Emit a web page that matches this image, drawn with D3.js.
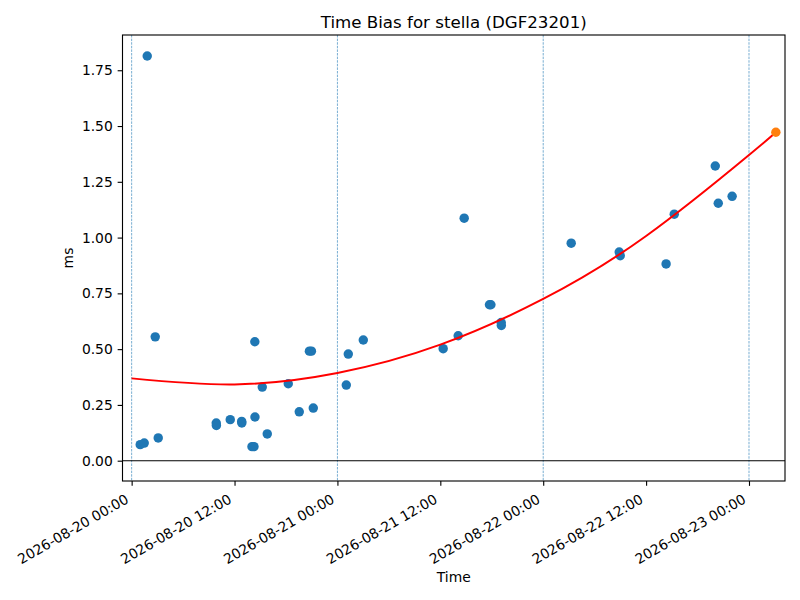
<!DOCTYPE html>
<html>
<head>
<meta charset="utf-8">
<script src="https://cdn.jsdelivr.net/npm/d3@7"></script>
<style>
  body { margin: 0; background: #fff; }
  text { font-family: "DejaVu Sans", sans-serif; fill: #000; }
</style>
</head>
<body>
<div id="chart"></div>
<script>
// Measured time bias samples (ms)
const sampleTimes = [
  "2026-08-20 01:00", "2026-08-20 01:28", "2026-08-20 01:49", "2026-08-20 02:45", "2026-08-20 03:06",
  "2026-08-20 09:52", "2026-08-20 09:53", "2026-08-20 11:30", "2026-08-20 12:50", "2026-08-20 12:51",
  "2026-08-20 14:02", "2026-08-20 14:16", "2026-08-20 14:23", "2026-08-20 14:22", "2026-08-20 15:14",
  "2026-08-20 15:49", "2026-08-20 18:16", "2026-08-20 19:33", "2026-08-20 20:44", "2026-08-20 20:58",
  "2026-08-20 21:11", "2026-08-21 01:02", "2026-08-21 01:16", "2026-08-21 03:01", "2026-08-21 12:20",
  "2026-08-21 14:05", "2026-08-21 14:47", "2026-08-21 17:44", "2026-08-21 17:54", "2026-08-21 19:06",
  "2026-08-21 19:07", "2026-08-22 03:16", "2026-08-22 08:52", "2026-08-22 08:59", "2026-08-22 14:20",
  "2026-08-22 15:17", "2026-08-22 20:04", "2026-08-22 20:25", "2026-08-22 22:02"
];
const sampleValues = [
  0.072, 0.079, 1.814, 0.555, 0.102,
  0.169, 0.158, 0.184, 0.176, 0.169,
  0.063, 0.063, 0.196, 0.533, 0.330,
  0.120, 0.345, 0.219, 0.491, 0.491,
  0.236, 0.339, 0.478, 0.541, 0.502,
  0.560, 1.087, 0.699, 0.699, 0.619,
  0.606, 0.975, 0.935, 0.919, 0.882,
  1.105, 1.321, 1.154, 1.185
];

// Fitted trend
const fitTimes = [
  "2026-08-20 00:00", "2026-08-20 12:00", "2026-08-21 00:00", "2026-08-21 12:00",
  "2026-08-22 00:00", "2026-08-22 12:00", "2026-08-23 00:00", "2026-08-23 03:08"
];
const fitValues = [0.369, 0.342, 0.393, 0.520, 0.725, 1.007, 1.370, 1.472];

// Latest (predicted) point
const latestTime = "2026-08-23 03:08";
const latestValue = 1.472;

// Day boundaries and tick labels
const dayLines = ["2026-08-20 00:00", "2026-08-21 00:00", "2026-08-22 00:00", "2026-08-23 00:00"];
const xTicks = [
  "2026-08-20 00:00", "2026-08-20 12:00", "2026-08-21 00:00", "2026-08-21 12:00",
  "2026-08-22 00:00", "2026-08-22 12:00", "2026-08-23 00:00"
];
const yTicks = [0, 0.25, 0.5, 0.75, 1.0, 1.25, 1.5, 1.75];

const parseTime = d3.timeParse("%Y-%m-%d %H:%M");
const fmtTime = d3.timeFormat("%Y-%m-%d %H:%M");

const W = 800, H = 600;
const margin = { top: 35, right: 15, bottom: 119, left: 122.5 };
const width = W - margin.left - margin.right;
const height = H - margin.top - margin.bottom;

const svg = d3.select("#chart").append("svg")
  .attr("width", W)
  .attr("height", H);

const g = svg.append("g")
  .attr("transform", `translate(${margin.left},${margin.top})`);

// Scales
const x = d3.scaleTime()
  .domain([parseTime("2026-08-19 22:56"), parseTime("2026-08-23 04:12")])
  .range([0, width]);
const y = d3.scaleLinear()
  .domain([-0.091, 1.908])
  .range([height, 0]);

// Clip for marks
g.append("clipPath").attr("id", "clip")
  .append("rect").attr("width", width).attr("height", height);
const plot = g.append("g").attr("clip-path", "url(#clip)");

// Day boundary lines
plot.selectAll(".day")
  .data(dayLines)
  .enter().append("line")
  .attr("x1", d => x(parseTime(d)))
  .attr("x2", d => x(parseTime(d)))
  .attr("y1", 0)
  .attr("y2", height)
  .style("stroke", "#1f77b4")
  .style("stroke-opacity", 0.75)
  .style("stroke-width", 0.8)
  .style("stroke-dasharray", "2.5,1.1");

// Zero line
plot.append("line")
  .attr("x1", 0).attr("x2", width)
  .attr("y1", y(0)).attr("y2", y(0))
  .style("stroke", "#000")
  .style("stroke-width", 1.1);

// Scatter points
const points = sampleTimes.map((t, i) => ({ t: parseTime(t), v: sampleValues[i] }));
plot.selectAll(".pt")
  .data(points)
  .enter().append("circle")
  .attr("class", "pt")
  .attr("cx", d => x(d.t))
  .attr("cy", d => y(d.v))
  .attr("r", 4.72)
  .style("fill", "#1f77b4");

// Fit curve
const fit = fitTimes.map((t, i) => ({ t: parseTime(t), v: fitValues[i] }));
plot.append("path")
  .datum(fit)
  .attr("d", d3.line().x(d => x(d.t)).y(d => y(d.v)).curve(d3.curveNatural))
  .style("fill", "none")
  .style("stroke", "red")
  .style("stroke-width", 2);

// Latest point
plot.append("circle")
  .attr("cx", x(parseTime(latestTime)))
  .attr("cy", y(latestValue))
  .attr("r", 4.72)
  .style("fill", "#ff7f0e");

// X axis
const xAxis = g.append("g")
  .attr("transform", `translate(0,${height})`)
  .call(d3.axisBottom(x)
    .tickValues(xTicks.map(parseTime))
    .tickFormat(fmtTime)
    .tickSizeOuter(0)
    .tickSize(4.86)
    .tickPadding(0));
xAxis.select(".domain").remove();
xAxis.selectAll(".tick line").style("stroke", "#000").style("stroke-width", 1.11);
xAxis.selectAll(".tick text")
  .style("font-size", "13.89px")
  .attr("y", 0)
  .attr("dy", 0)
  .attr("text-anchor", "end")
  .attr("transform", "translate(-2.5,21) rotate(-30)");

// Y axis
const yAxis = g.append("g")
  .call(d3.axisLeft(y)
    .tickValues(yTicks)
    .tickFormat(d3.format(".2f"))
    .tickSizeOuter(0)
    .tickSize(4.86)
    .tickPadding(4.86));
yAxis.select(".domain").remove();
yAxis.selectAll(".tick line").style("stroke", "#000").style("stroke-width", 1.11);
yAxis.selectAll(".tick text").style("font-size", "13.89px");

// Frame
g.append("rect")
  .attr("width", width)
  .attr("height", height)
  .style("fill", "none")
  .style("stroke", "#000")
  .style("stroke-width", 1.11);

// Title and labels
svg.append("text")
  .attr("x", margin.left + width / 2)
  .attr("y", 28)
  .attr("text-anchor", "middle")
  .style("font-size", "16.67px")
  .text("Time Bias for stella (DGF23201)");

svg.append("text")
  .attr("x", margin.left + width / 2)
  .attr("y", 582)
  .attr("text-anchor", "middle")
  .style("font-size", "13.89px")
  .text("Time");

svg.append("text")
  .attr("transform", `translate(73,${margin.top + height / 2}) rotate(-90)`)
  .attr("text-anchor", "middle")
  .style("font-size", "13.89px")
  .text("ms");
</script>
</body>
</html>
